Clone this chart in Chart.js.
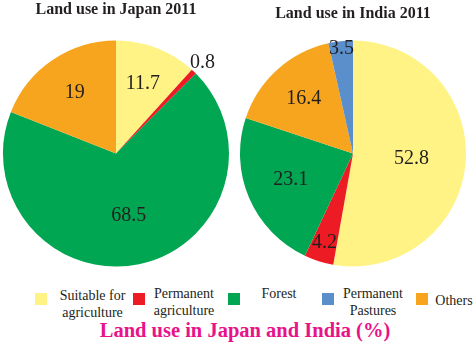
<!DOCTYPE html>
<html>
<head>
<meta charset="utf-8">
<script src="https://cdn.jsdelivr.net/npm/chart.js@4/dist/chart.umd.min.js"></script>
<style>
  body { margin: 0; background: #fff; width: 476px; height: 361px; position: relative; overflow: hidden; font-family: "Liberation Serif", serif; }
  #boxJapan { position: absolute; left: 0; top: 0; width: 232px; height: 270px; }
  #boxIndia { position: absolute; left: 236px; top: 0; width: 234px; height: 270px; }
  .leg { position: absolute; font-size: 14px; line-height: 17px; color: #231f20; text-align: center; }
  .sw { position: absolute; width: 12px; height: 12px; }
  #titulo { position: absolute; left: 0; width: 490px; top: 319px; text-align: center; font-weight: bold; font-size: 20.5px; color: #e8128a; }
</style>
</head>
<body>
<div id="boxJapan"><canvas id="graficoJapao"></canvas></div>
<div id="boxIndia"><canvas id="graficoIndia"></canvas></div>

<div class="sw" style="left:35px;top:293px;background:#fff385"></div>
<div class="leg" style="left:50px;top:287px;width:85px">Suitable for<br>agriculture</div>
<div class="sw" style="left:133px;top:293px;background:#ed1c24"></div>
<div class="leg" style="left:144px;top:285px;width:80px">Permanent<br>agriculture</div>
<div class="sw" style="left:228px;top:293px;background:#00a651"></div>
<div class="leg" style="left:249px;top:285px;width:60px">Forest</div>
<div class="sw" style="left:322px;top:293px;background:#5b8fcc"></div>
<div class="leg" style="left:333px;top:285px;width:80px">Permanent<br>Pastures</div>
<div class="sw" style="left:416px;top:293px;background:#f7a51e"></div>
<div class="leg" style="left:430px;top:292px;width:48px">Others</div>

<div id="titulo">Land use in Japan and India (%)</div>

<script>
// categorias na ordem das fatias
const categorias = ['Suitable for agriculture', 'Permanent agriculture', 'Forest', 'Others', 'Permanent Pastures'];
const cores = ['#fff385', '#ed1c24', '#00a651', '#f7a51e', '#5b8fcc'];

const japao = [11.7, 0.8, 68.5, 19, 0];
const india = [52.8, 4.2, 23.1, 16.4, 3.5];

// distancia do rotulo ao centro (fracao do raio)
const posJapao = [0.66, 1.11, 0.56, 0.65, 0.6];
const posIndia = [0.52, 0.83, 0.60, 0.65, 0.93];

const rotulos = {
    id: 'rotulos',
    afterDatasetsDraw(chart, args, opts) {
        const ctx = chart.ctx;
        const meta = chart.getDatasetMeta(0);
        const dados = chart.data.datasets[0].data;
        ctx.save();
        ctx.font = '20px "Liberation Serif", serif';
        ctx.fillStyle = '#231f20';
        ctx.textAlign = 'center';
        ctx.textBaseline = 'middle';
        meta.data.forEach((arc, i) => {
            if (!dados[i]) return;
            const ang = (arc.startAngle + arc.endAngle) / 2;
            const r = arc.outerRadius * opts.pos[i];
            ctx.fillText(String(dados[i]), arc.x + Math.cos(ang) * r, arc.y + Math.sin(ang) * r);
        });
        ctx.restore();
    }
};

function pizza(id, titulo, valores, pos, padTop, padBottom) {
    return new Chart(document.getElementById(id).getContext('2d'), {
        type: 'pie',
        data: {
            labels: categorias,
            datasets: [{
                data: valores,
                backgroundColor: cores,
                borderWidth: 0,
                radius: 113
            }]
        },
        options: {
            responsive: true,
            maintainAspectRatio: false,
            animation: false,
            plugins: {
                legend: { display: false },
                tooltip: { enabled: false },
                title: {
                    display: true,
                    text: titulo,
                    color: '#231f20',
                    font: { family: '"Liberation Serif", serif', size: 16, weight: 'bold' },
                    padding: { top: padTop, bottom: padBottom }
                },
                rotulos: { pos: pos }
            }
        },
        plugins: [rotulos]
    });
}

pizza('graficoJapao', 'Land use in Japan 2011', japao, posJapao, 0, 17.8);
pizza('graficoIndia', 'Land use in India 2011', india, posIndia, 3.9, 13.9);
</script>
</body>
</html>
